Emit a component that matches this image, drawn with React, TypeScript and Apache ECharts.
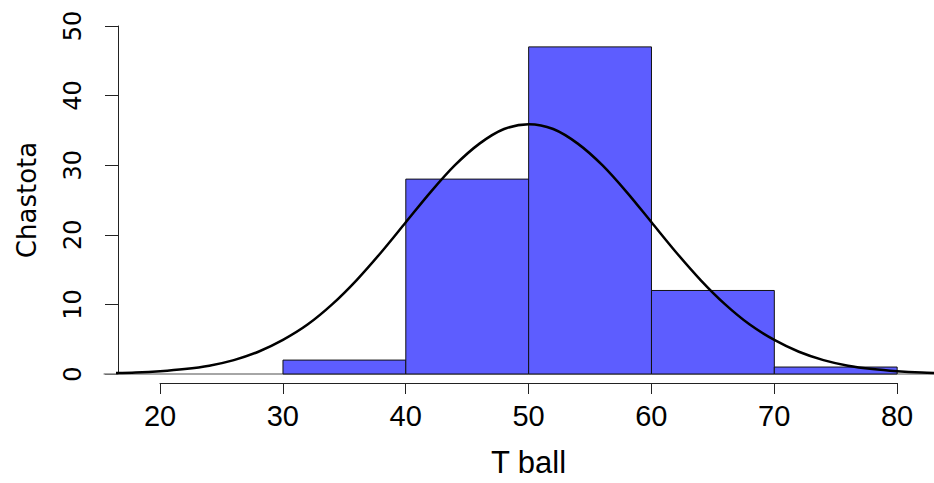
import React, { useEffect, useRef } from "react";
import * as echarts from "echarts";

// Histogram bins: [from, to, count]
const binStarts = [30, 40, 50, 60, 70];
const binEnds = [40, 50, 60, 70, 80];
const binCounts = [2, 28, 47, 12, 1];

// Fitted normal curve
const curveX = [16, 18, 20, 22, 24, 26, 28, 30, 32, 34, 36, 38, 40, 42, 44, 46, 48, 50, 52, 54, 56, 58, 60, 62, 64, 66, 68, 70, 72, 74, 76, 78, 80, 82, 84];
const curveY = [0.11, 0.21, 0.4, 0.71, 1.2, 2.0, 3.2, 4.9, 7.1, 10.0, 13.5, 17.5, 21.8, 26.1, 30.0, 33.1, 35.2, 35.9, 35.2, 33.1, 30.0, 26.1, 21.8, 17.5, 13.5, 10.0, 7.1, 4.9, 3.2, 2.0, 1.2, 0.71, 0.4, 0.21, 0.11];

const xTickMin = 20;
const xTickMax = 80;
const yTickMin = 0;
const yTickMax = 50;
const baselineFrom = 15.4;
const baselineTo = 83.5;

export default function App() {
  const ref = useRef<HTMLDivElement>(null);
  useEffect(() => {
    if (!ref.current) return;
    const chart = echarts.init(ref.current, undefined, { renderer: "svg" });
    const bars = binStarts.map((s, i) => [s, binEnds[i], binCounts[i]]);
    const curve = curveX.map((x, i) => [x, curveY[i]]);
    chart.setOption({
      animation: false,
      backgroundColor: "#ffffff",
      grid: [
        { left: 118, right: 0, top: 26, bottom: 109 },
        { left: 160, right: 37, top: 26, bottom: 95 },
      ],
      xAxis: [
        { type: "value", gridIndex: 0, min: 16.57, max: 83.0, show: false },
        {
          type: "value",
          gridIndex: 1,
          min: xTickMin,
          max: xTickMax,
          interval: 10,
          name: "T ball",
          nameLocation: "middle",
          nameGap: 64,
          nameTextStyle: { fontFamily: "Liberation Sans", fontSize: 31, color: "#000" },
          axisLine: { show: true, lineStyle: { color: "#222", width: 1 } },
          axisTick: { show: true, length: 11, lineStyle: { color: "#222", width: 1 } },
          axisLabel: { fontFamily: "Liberation Sans", fontSize: 29, color: "#000", margin: 18 },
          splitLine: { show: false },
        },
      ],
      yAxis: [
        {
          type: "value",
          gridIndex: 0,
          min: yTickMin,
          max: yTickMax,
          interval: 10,
          name: "Chastota",
          nameLocation: "middle",
          nameGap: 78,
          nameTextStyle: { fontFamily: "DejaVu Sans", fontSize: 26, color: "#000" },
          axisLine: { show: true, lineStyle: { color: "#222", width: 1 } },
          axisTick: { show: true, length: 13, lineStyle: { color: "#222", width: 1 } },
          axisLabel: { fontFamily: "DejaVu Sans", fontSize: 24, color: "#000", rotate: 90, margin: 33 },
          splitLine: { show: false },
        },
        { type: "value", gridIndex: 1, min: 0, max: 50, show: false },
      ],
      series: [
        {
          type: "custom",
          xAxisIndex: 0,
          yAxisIndex: 0,
          clip: false,
          data: [[baselineFrom, baselineTo]],
          renderItem: (params: any, api: any) => {
            const a = api.coord([api.value(0), 0]);
            const b = api.coord([api.value(1), 0]);
            return {
              type: "line",
              shape: { x1: a[0], y1: a[1], x2: b[0], y2: b[1] },
              style: { stroke: "#888888", lineWidth: 1.5 },
            };
          },
          z: 1,
        },
        {
          type: "custom",
          xAxisIndex: 0,
          yAxisIndex: 0,
          data: bars,
          renderItem: (params: any, api: any) => {
            const tl = api.coord([api.value(0), api.value(2)]);
            const br = api.coord([api.value(1), 0]);
            return {
              type: "rect",
              shape: { x: tl[0], y: tl[1], width: br[0] - tl[0], height: br[1] - tl[1] },
              style: { fill: "#5d5dff", stroke: "#111", lineWidth: 1 },
            };
          },
          z: 2,
        },
        {
          type: "line",
          xAxisIndex: 0,
          yAxisIndex: 0,
          data: curve,
          smooth: 0.3,
          showSymbol: false,
          symbol: "none",
          clip: true,
          lineStyle: { color: "#000", width: 2.5 },
          z: 3,
        },
      ],
    });
    return () => chart.dispose();
  }, []);
  return (
    <div
      ref={ref}
      style={{ position: "fixed", left: 0, top: 0, width: 934, height: 483, background: "#fff" }}
    />
  );
}
